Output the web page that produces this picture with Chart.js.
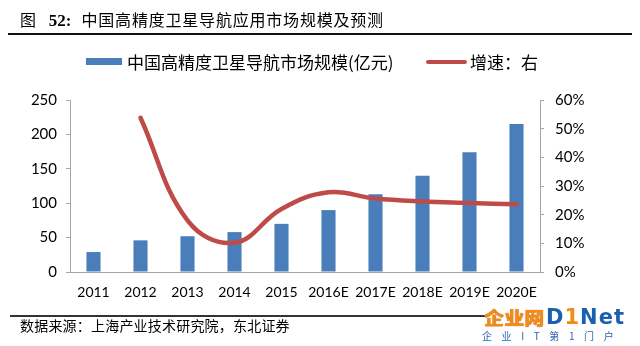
<!DOCTYPE html>
<html>
<head>
<meta charset="utf-8">
<script src="https://cdn.jsdelivr.net/npm/chart.js@4/dist/chart.umd.min.js"></script>
<style>
  html, body { margin: 0; padding: 0; background: #fff; }
  #wrap { position: relative; width: 640px; height: 346px; overflow: hidden; background: #fff; }
  #c { position: absolute; left: 0; top: 0; }
  .abs { position: absolute; white-space: nowrap; color: #000; }
  #title { left: 20px; top: 9px; font-family: "Noto Sans CJK SC"; font-size: 16px; line-height: 20px; letter-spacing: 0.8px; }
  #title .num { font-family: "Liberation Serif"; font-weight: bold; font-size: 17px; letter-spacing: 0; margin: 0 10px 0 12px; }
  #rule1 { left: 8px; top: 32.5px; width: 624px; height: 2px; background: #111; }
  #rule2 { left: 10px; top: 314.5px; width: 476px; height: 2px; background: #333; }
  .leg { top: 51px; font-family: "Noto Sans CJK SC"; font-size: 17px; line-height: 22px; }
  .legbar { position: absolute; left: 86px; top: 58px; width: 36px; height: 7px; background: #4A7EBB; }
  .legline { position: absolute; left: 426px; top: 59.5px; width: 41px; height: 4.5px; border-radius: 3px; background: #BE4B48; }
  #foot { left: 20px; top: 316px; font-family: "Noto Sans CJK SC"; font-size: 14px; line-height: 18px; letter-spacing: 0.2px; }
  #wm1 { left: 484px; top: 307px; font-family: "Noto Sans CJK SC"; font-weight: 900; font-size: 18px; line-height: 21px; color: #F08C1A; transform: scaleX(1.12); transform-origin: left top; text-shadow: 0 0 1px #c25e00; }
  #wm2 { left: 546px; top: 306px; font-family: "DejaVu Sans"; font-weight: bold; font-size: 21px; line-height: 22px; color: #1B5FB0; letter-spacing: 1px; }
  #wm2 .one { color: #F08C1A; }
  #wm3 { left: 482px; top: 330px; font-family: "Noto Sans CJK SC"; font-size: 10px; line-height: 12px; color: #2F63B2; letter-spacing: 9.6px; }
</style>
</head>
<body>
<div id="wrap">
  <canvas id="c" width="640" height="346"></canvas>
  <div id="title" class="abs">图<span class="num">52:</span>中国高精度卫星导航应用市场规模及预测</div>
  <div id="rule1" class="abs"></div>
  <div class="legbar"></div>
  <div class="leg abs" style="left:127px;">中国高精度卫星导航市场规模(亿元)</div>
  <div class="legline"></div>
  <div class="leg abs" style="left:470px;">增速：右</div>
  <div id="rule2" class="abs"></div>
  <div id="foot" class="abs">数据来源：上海产业技术研究院，东北证券</div>
  <div id="wm1" class="abs">企业网</div>
  <div id="wm2" class="abs">D<span class="one">1</span>Net</div>
  <div id="wm3" class="abs">企业IT第1门户</div>
</div>
<script>
// Years on the category axis
const years = ['2011', '2012', '2013', '2014', '2015', '2016E', '2017E', '2018E', '2019E', '2020E'];
// Market size, 亿元 (left axis)
const marketSize = [29, 46, 52, 58, 70, 90, 113, 140, 174, 215];
// Year-on-year growth, % (right axis); no value for the first year
const growthPct = [null, 53.8, 18, 10.2, 22, 27.8, 25.6, 24.6, 24.1, 23.6];
// Axis ticks
const leftTicks = [0, 50, 100, 150, 200, 250];
const rightTicks = [0, 10, 20, 30, 40, 50, 60];

const axisGrey = '#A6A6A6';
const tickFont = { family: 'Lato', size: 15 };

new Chart(document.getElementById('c'), {
  data: {
    labels: years,
    datasets: [
      {
        type: 'line',
        label: '增速：右',
        data: growthPct,
        yAxisID: 'yR',
        borderColor: '#BE4B48',
        borderWidth: 4.5,
        borderCapStyle: 'round',
        borderJoinStyle: 'round',
        tension: 0.4,
        pointRadius: 0,
        fill: false,
        order: 0
      },
      {
        type: 'bar',
        label: '中国高精度卫星导航市场规模(亿元)',
        data: marketSize,
        yAxisID: 'yL',
        backgroundColor: '#4A7EBB',
        categoryPercentage: 1,
        barPercentage: 0.3,
        order: 1
      }
    ]
  },
  options: {
    responsive: false,
    animation: false,
    devicePixelRatio: 1,
    layout: { padding: { top: 100, left: 0, right: 0, bottom: 0 } },
    plugins: { legend: { display: false }, tooltip: { enabled: false } },
    scales: {
      x: {
        offset: true,
        grid: { display: false, drawTicks: false },
        border: { display: true, color: axisGrey, width: 1 },
        ticks: { color: '#000', font: { family: 'Lato', size: 14 }, padding: 12, autoSkip: false, maxRotation: 0 },
        afterFit: s => { s.height = 74; }
      },
      yL: {
        position: 'left',
        min: 0, max: 250,
        afterBuildTicks: s => { s.ticks = leftTicks.map(v => ({ value: v })); },
        grid: { drawOnChartArea: false, drawTicks: true, tickLength: 4, color: axisGrey },
        border: { display: true, color: axisGrey, width: 1 },
        ticks: { color: '#000', font: tickFont, padding: 9 },
        afterFit: s => { s.width = 70; }
      },
      yR: {
        position: 'right',
        min: 0, max: 60,
        afterBuildTicks: s => { s.ticks = rightTicks.map(v => ({ value: v })); },
        grid: { drawOnChartArea: false, drawTicks: true, tickLength: 4, color: axisGrey },
        border: { display: true, color: axisGrey, width: 1 },
        ticks: { color: '#000', font: tickFont, padding: 11, callback: v => v + '%' },
        afterFit: s => { s.width = 100; }
      }
    }
  }
});
</script>
</body>
</html>
